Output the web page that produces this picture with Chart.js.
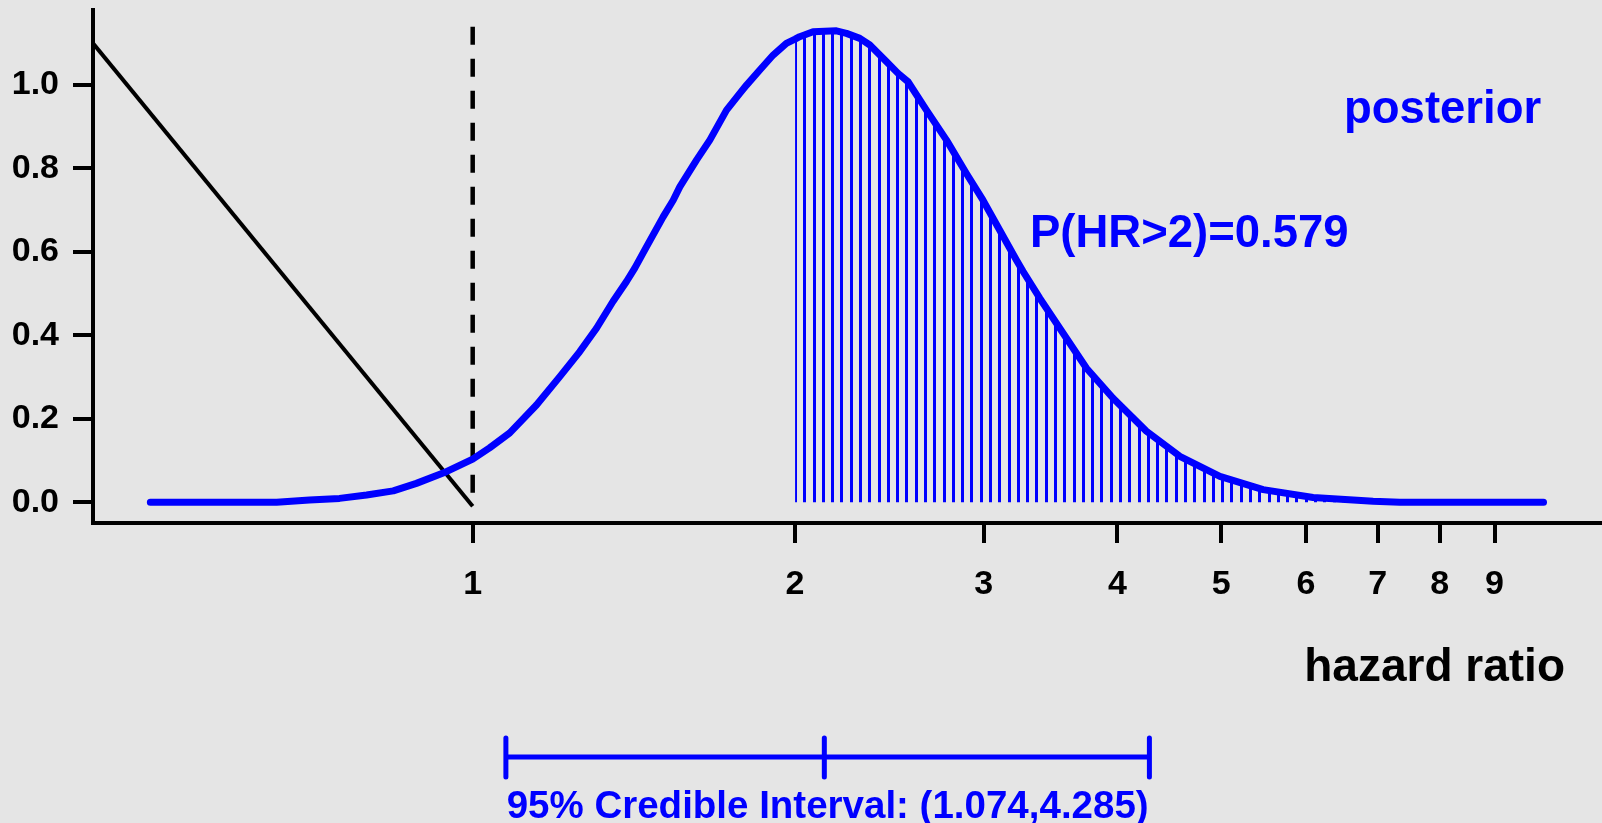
<!DOCTYPE html>
<html>
<head>
<meta charset="utf-8">
<script src="https://cdn.jsdelivr.net/npm/chart.js@4.4.0/dist/chart.umd.min.js"></script>
<style>
body{margin:0;background:#e5e5e5;overflow:hidden}
canvas{display:block}
</style>
</head>
<body>
<canvas id="hrChart" width="1602" height="823"></canvas>
<script>
// posterior density of the hazard ratio
const hr = [0.5, 0.656, 0.704, 0.751, 0.796, 0.843, 0.886, 0.945, 1.0,
  1.037, 1.083, 1.147, 1.206, 1.259, 1.305, 1.352, 1.392, 1.417,
  1.453, 1.506, 1.539, 1.561, 1.618, 1.665, 1.726, 1.776, 1.802,
  1.854, 1.908, 1.963, 2.0, 2.02, 2.079, 2.186, 2.234, 2.299,
  2.349, 2.435, 2.496, 2.55, 2.653, 2.77, 2.891, 2.996, 3.106,
  3.22, 3.266, 3.385, 3.585, 3.743, 3.963, 4.258, 4.575, 4.986,
  5.472, 6.093, 6.932, 7.342, 10.0]
const dens = [0, 0, 0.005, 0.009, 0.017, 0.027, 0.045, 0.073, 0.103,
  0.130, 0.166, 0.233, 0.301, 0.361, 0.417, 0.481, 0.529, 0.561,
  0.612, 0.684, 0.724, 0.756, 0.820, 0.868, 0.940, 0.980, 1.000,
  1.036, 1.072, 1.100, 1.110, 1.116, 1.128, 1.130, 1.124, 1.112,
  1.096, 1.056, 1.028, 1.008, 0.940, 0.868, 0.788, 0.724, 0.652,
  0.580, 0.553, 0.489, 0.393, 0.321, 0.249, 0.170, 0.110, 0.062,
  0.030, 0.011, 0.002, 0, 0]

// black straight line and dashed reference line at HR = 1
const priorHR = [0.442, 1]
const priorDens = [1.10, -0.01]
const nullHR = [1, 1]
const nullY = [1.14, -0.01]

const xTicks = [1, 2, 3, 4, 5, 6, 7, 8, 9]
const yTicks = [0, 0.2, 0.4, 0.6, 0.8, 1.0]

const probCut = 2
const ciLow = 1.074
const ciMid = 2.13
const ciHigh = 4.285

const FONT = '"Liberation Sans", Arial, Helvetica, sans-serif'
const BLUE = '#0000ff'

const pts = (xs, ys) => xs.map((v, i) => ({ x: v, y: ys[i] }))

const canvas = document.getElementById('hrChart')
const ctx = canvas.getContext('2d')

// vertical hatching, ~9.3px apart (7 lines per 65px tile)
const tile = document.createElement('canvas')
tile.width = 65
tile.height = 4
const tctx = tile.getContext('2d')
tctx.fillStyle = BLUE
for (let i = 0; i < 7; i++) tctx.fillRect(Math.round(i * 65 / 7), 0, 3, 4)
const hatch = ctx.createPattern(tile, 'repeat')

const hatchAlign = {
  id: 'hatchAlign',
  beforeDatasetsDraw(chart) {
    const x2 = chart.scales.x.getPixelForValue(probCut)
    hatch.setTransform(new DOMMatrix([1, 0, 0, 1, Math.round(x2 - 1.5), 0]))
  }
}

const notes = {
  id: 'notes',
  afterDraw(chart) {
    const c = chart.ctx
    const x = chart.scales.x
    c.save()
    c.textBaseline = 'alphabetic'
    c.fillStyle = BLUE
    c.font = 'bold 45.5px ' + FONT
    c.textAlign = 'left'
    c.fillText('posterior', 1344, 123)
    c.fillText('P(HR>2)=0.579', 1030, 247)

    c.fillStyle = '#000'
    c.font = 'bold 46px ' + FONT
    c.textAlign = 'right'
    c.fillText('hazard ratio', 1565, 681)

    // credible interval bar
    const xl = x.getPixelForValue(ciLow)
    const xm = x.getPixelForValue(ciMid)
    const xh = x.getPixelForValue(ciHigh)
    c.strokeStyle = BLUE
    c.lineWidth = 5
    c.lineCap = 'round'
    c.beginPath()
    c.moveTo(xl, 757)
    c.lineTo(xh, 757)
    ;[xl, xm, xh].forEach(p => { c.moveTo(p, 738); c.lineTo(p, 777) })
    c.stroke()

    c.fillStyle = BLUE
    c.font = 'bold 38.5px ' + FONT
    c.textAlign = 'center'
    c.fillText('95% Credible Interval: (1.074,4.285)', (xl + xh) / 2, 818)
    c.restore()
  }
}

new Chart(ctx, {
  type: 'line',
  data: {
    datasets: [
      { label: 'P(HR>2)', data: pts(hr, dens).filter(p => p.x >= probCut),
        borderColor: 'transparent', borderWidth: 0, pointRadius: 0,
        fill: 'origin', backgroundColor: hatch, order: 4 },
      { label: 'posterior', data: pts(hr, dens), borderColor: BLUE, borderWidth: 7,
        pointRadius: 0, fill: false, borderCapStyle: 'round', borderJoinStyle: 'round', order: 1 },
      { label: 'line', data: pts(priorHR, priorDens), borderColor: '#000', borderWidth: 4,
        pointRadius: 0, fill: false, order: 2 },
      { label: 'HR=1', data: pts(nullHR, nullY), borderColor: '#000', borderWidth: 4.5,
        borderDash: [18, 14], pointRadius: 0, fill: false, order: 3 }
    ]
  },
  options: {
    responsive: false,
    animation: false,
    layout: { padding: { top: 10, left: 0, right: 0, bottom: 0 } },
    plugins: { legend: { display: false }, tooltip: { enabled: false } },
    scales: {
      x: {
        type: 'logarithmic', min: 0.442, max: 11.34,
        afterFit(s) { s.height = 300; s.paddingLeft = 0; s.paddingRight = 0 },
        afterBuildTicks(s) { s.ticks = xTicks.map(v => ({ value: v })) },
        ticks: { callback: v => String(v), color: '#000', padding: 21, autoSkip: false, maxRotation: 0,
          font: { family: FONT, size: 34, weight: 'bold' } },
        grid: { drawOnChartArea: false, color: '#000', lineWidth: 4, tickLength: 20 },
        border: { color: '#000', width: 4 }
      },
      y: {
        min: -0.05, max: 1.18,
        afterFit(s) { s.width = 93; s.paddingTop = 0; s.paddingBottom = 0 },
        afterBuildTicks(s) { s.ticks = yTicks.map(v => ({ value: v })) },
        ticks: { callback: v => v.toFixed(1), color: '#000', padding: 14,
          font: { family: FONT, size: 34, weight: 'bold' } },
        grid: { drawOnChartArea: false, color: '#000', lineWidth: 4, tickLength: 20 },
        border: { color: '#000', width: 4 }
      }
    }
  },
  plugins: [hatchAlign, notes]
})
</script>
</body>
</html>
